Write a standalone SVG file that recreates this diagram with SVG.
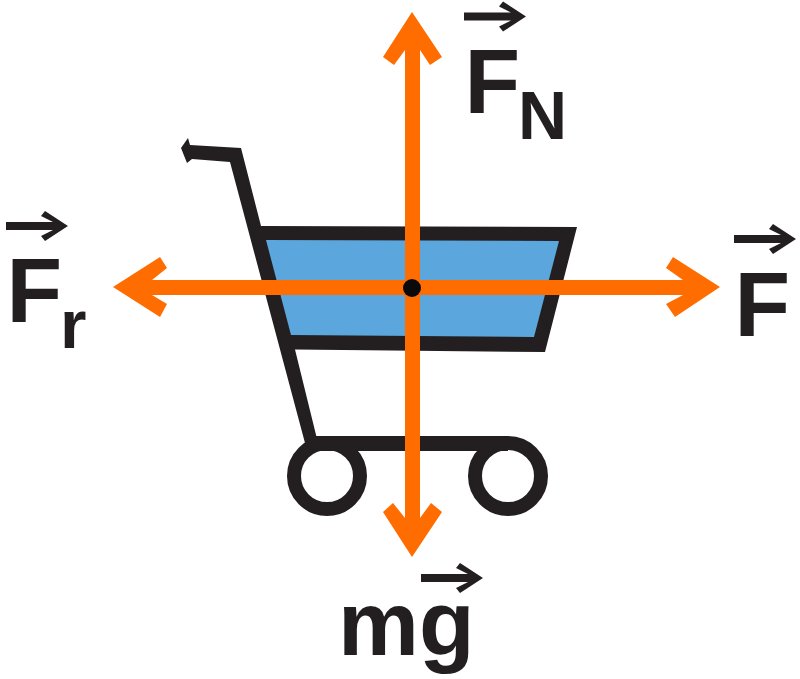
<svg xmlns="http://www.w3.org/2000/svg" width="800" height="679" viewBox="0 0 800 679">
<defs>
<style>
.k{fill:#231f20}
.w{fill:none;stroke:#231f20;stroke-width:14}
.o{fill:#ff6d00}
.t{font-family:"Liberation Sans",Arial,sans-serif;font-weight:700;fill:#231f20}
.b{font-size:91px}
.s{font-size:68px}
</style>
<path id="vec" d="M0 -4V4H47L35 10L39 15L62 0L39 -15L35 -10L47 -4Z" fill="#231f20"/>
</defs>
<rect width="800" height="679" fill="#fff"/>
<g id="cart">
<path class="k" d="M188 138L181 148L187 163L192 159L230 162L305 443H318L295 349.500L545 352L577 227L261 226L241 148L190 145Z"/>
<path d="M266 240L559 241L534 337L291 335Z" fill="#5ba6dc"/>
<rect class="k" x="310" y="436" width="198" height="15"/>
<circle class="w" cx="327" cy="476" r="33"/>
<circle class="w" cx="508" cy="476" r="33"/>
</g>
<g id="connectors">
<path class="o" d="M412 12L442 57L430 65L420 50V518L431 503L442 512L412 557L383 512L393 503L405 518V50L394 65L383 57Z"/>
<path class="o" d="M113 287L160 257L167 268L152 280H683L666 268L673 257L720 287L675 317L666 304L683 295H152L167 304L160 317Z"/>
</g>
<g id="center"><circle cx="412" cy="288" r="9" fill="#0a0a0a"/></g>
<g id="label-fn"><text class="t b" x="464.400" y="113">F</text><text class="t s" x="518" y="139">N</text><use href="#vec" x="464" y="16.500"/></g>
<g id="label-fr"><text class="t b" x="6.400" y="322">F</text><text class="t s" x="60" y="348">r</text><use href="#vec" x="6" y="226"/></g>
<g id="label-f"><text class="t b" x="734.400" y="336">F</text><use href="#vec" x="734" y="239"/></g>
<g id="label-mg"><text class="t b" x="338" y="655">mg</text><use href="#vec" x="421" y="578"/></g>
</svg>
